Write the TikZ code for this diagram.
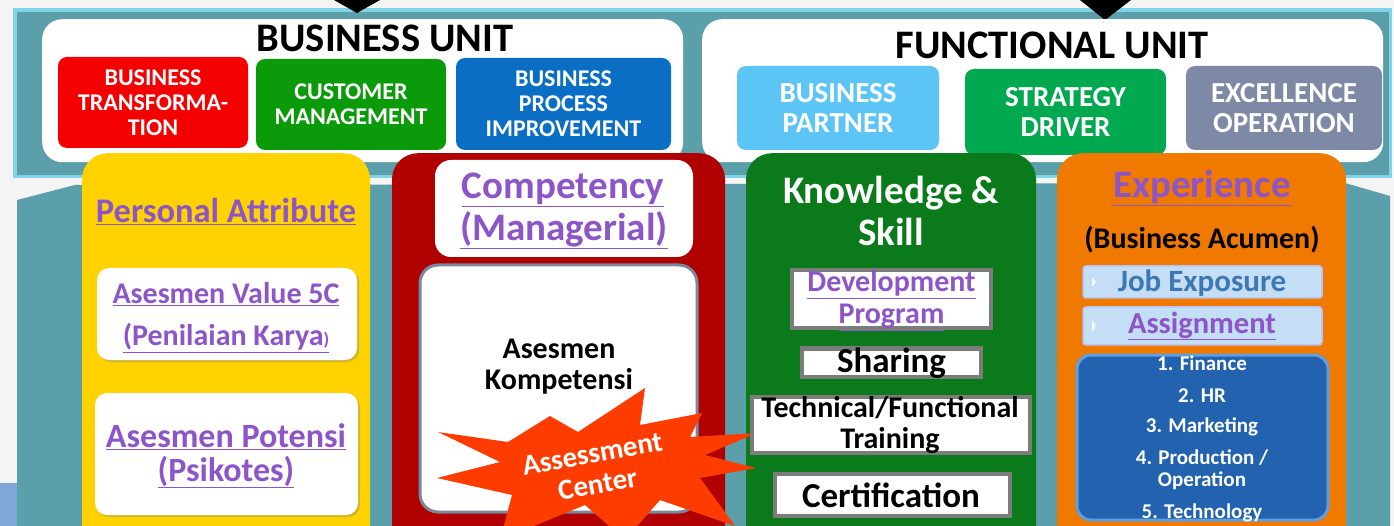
\documentclass[tikz,border=0pt]{standalone}
\usepackage{fontspec}
\setmainfont{Carlito}
\usetikzlibrary{shadows}
\definecolor{bgc}{HTML}{F4F4F4}
\definecolor{tealc}{HTML}{5A9FAA}
\definecolor{cyanl}{HTML}{80D4EA}
\definecolor{lblue}{HTML}{7FA7D8}
\definecolor{redc}{HTML}{F40000}
\definecolor{greenc}{HTML}{0A9A0A}
\definecolor{bluec}{HTML}{0A6FC4}
\definecolor{skyc}{HTML}{5CC5F5}
\definecolor{stratc}{HTML}{00A84F}
\definecolor{greyc}{HTML}{7E89A6}
\definecolor{yellowc}{HTML}{FFD200}
\definecolor{darkred}{HTML}{B00000}
\definecolor{darkgreen}{HTML}{0B7A1B}
\definecolor{orangec}{HTML}{F07A00}
\definecolor{purp}{HTML}{8C55C8}
\definecolor{burst}{HTML}{FF3C00}
\definecolor{jobc}{HTML}{C3DEF5}
\definecolor{jobtxt}{HTML}{3D78B5}
\definecolor{listc}{HTML}{2262AE}
\definecolor{listrim}{HTML}{5E9EE2}
\definecolor{bevel}{HTML}{7C7C7C}
\definecolor{innerrim}{HTML}{7A879C}
\tikzset{
  unitbox/.style={rounded corners=9, inner sep=0, align=center, text=white,
    font=\bfseries\fontsize{24}{25}\selectfont},
  funcbox/.style={rounded corners=9, inner sep=0, align=center, text=white,
    font=\bfseries\fontsize{29}{30}\selectfont},
  colbox/.style={rounded corners=26, inner sep=0, anchor=north},
  whitebox/.style={rounded corners=12, inner sep=0, fill=white, align=center,
    drop shadow={opacity=0.35, shadow xshift=2pt, shadow yshift=-2pt}},
  bevelbox/.style={inner sep=0, fill=white, draw=bevel, line width=4, align=center},
  jobbox/.style={rounded corners=3, inner sep=0, fill=jobc, draw=jobc!70!blue!60, line width=1.5, align=center},
  ptxt/.style={text=purp, align=center, inner sep=0},
  listtxt/.style={inner sep=0, text=white, align=center, font=\bfseries\fontsize{21}{22}\selectfont},
  title/.style={inner sep=0, font=\bfseries\fontsize{40.5}{44}\selectfont}
}
\begin{document}
\begin{tikzpicture}[x=1pt,y=-1pt]
\useasboundingbox (0,0) rectangle (1394,526);
\clip (0,0) rectangle (1394,526);
% background
\fill[bgc] (0,0) rectangle (1394,526);
\fill[lblue] (0,483) rectangle (17,526);
\fill[tealc] (17,200) -- (75,185) -- (1345,183) -- (1390,196) -- (1390,526) -- (17,526) -- cycle;
% top band
\fill[cyanl] (13,8) rectangle (1392,178);
\fill[tealc] (17,12) rectangle (1389,175);
\fill[black] (334,0) -- (380,0) -- (357,13) -- cycle;
\fill[black] (1080,0) -- (1131,0) -- (1105,20) -- cycle;
% unit panels
\node[fill=white, rounded corners=20, inner sep=0, minimum width=641, minimum height=143, anchor=north west] (bu) at (42,19) {};
\node[fill=white, rounded corners=20, inner sep=0, minimum width=681, minimum height=143, anchor=north west] (fu) at (702,19) {};
\node[title] (butitle) at (385,38) {BUSINESS UNIT};
\node[title] (futitle) at (1052,45) {FUNCTIONAL UNIT};
\node[unitbox, fill=redc, minimum width=190, minimum height=91] (bt) at (153,102.5) {BUSINESS\\TRANSFORMA-\\TION};
\node[unitbox, fill=greenc, minimum width=190, minimum height=91] (cm) at (351,104.5) {CUSTOMER\\MANAGEMENT};
\node[unitbox, fill=bluec, minimum width=215, minimum height=92] (bpi) at (563.5,104) {BUSINESS\\PROCESS\\IMPROVEMENT};
\node[funcbox, fill=skyc, minimum width=202, minimum height=84] (bp) at (838,108) {BUSINESS\\PARTNER};
\node[funcbox, fill=stratc, minimum width=201, minimum height=86] (sd) at (1065.5,112) {STRATEGY\\DRIVER};
\node[funcbox, fill=greyc, minimum width=196, minimum height=84] (eo) at (1284,108) {EXCELLENCE\\OPERATION};
% columns
\node[colbox, fill=yellowc, minimum width=288, minimum height=420] (col1) at (226,153) {};
\node[colbox, fill=darkred, minimum width=333, minimum height=420] (col2) at (558.5,153) {};
\node[colbox, fill=darkgreen, minimum width=290, minimum height=420] (col3) at (891,153) {};
\node[colbox, fill=orangec, minimum width=289, minimum height=420] (col4) at (1201.5,153) {};
% column 1
\node[ptxt, font=\bfseries\fontsize{34.5}{38}\selectfont] (pa) at (226,212) {\underline{Personal Attribute}};
\node[whitebox, minimum width=260, minimum height=92] (av) at (227,314) {};
\node[ptxt, font=\bfseries\fontsize{30}{34}\selectfont] (avt1) at (226,294) {\underline{Asesmen Value 5C}};
\node[ptxt, font=\bfseries\fontsize{30}{34}\selectfont] (avt2) at (226,338) {\underline{(Penilaian Karya{\fontsize{18}{20}\selectfont)}}};
\node[whitebox, minimum width=263, minimum height=122] (ap) at (226.5,454) {};
\node[ptxt, font=\bfseries\fontsize{34}{38}\selectfont] (apt1) at (226,437) {\underline{Asesmen Potensi}};
\node[ptxt, font=\bfseries\fontsize{34}{38}\selectfont] (apt2) at (226,472) {\underline{(Psikotes)}};
% column 2
\node[fill=white, rounded corners=16, inner sep=0, minimum width=258, minimum height=97] (comp) at (564,208.5) {};
\node[ptxt, font=\bfseries\fontsize{39}{42}\selectfont] (compt1) at (563,190) {\underline{Competency}};
\node[ptxt, font=\bfseries\fontsize{39}{42}\selectfont] (compt2) at (564,230) {\underline{(Managerial)}};
\node[fill=white, draw=innerrim, line width=3, rounded corners=18, inner sep=0, minimum width=277, minimum height=247] (ak) at (558.5,388.5) {};
\node[inner sep=0, align=center, font=\bfseries\fontsize{30}{31}\selectfont] (akt) at (559,367) {Asesmen\\Kompetensi};
\fill[burst] (438,432) -- (508,442) -- (550,416) -- (578,432) -- (645,388) -- (640,425) -- (702,413) -- (690,437) -- (757,433) -- (705,455) -- (756,468) -- (700,478) -- (735,526) -- (660,500) -- (625,540) -- (585,505) -- (500,540) -- (512,495) -- (437,478) -- (500,462) -- cycle;
\node[inner sep=0, align=center, text=white, rotate=10, font=\bfseries\fontsize{29}{31}\selectfont] (ac) at (595,469) {Assessment\\Center};
% column 3
\node[inner sep=0, align=center, text=white, font=\bfseries\fontsize{39}{42}\selectfont] (ks) at (891,211) {Knowledge \&\\Skill};
\node[bevelbox, minimum width=199, minimum height=58] (dp) at (891.5,299) {};
\node[ptxt, font=\bfseries\fontsize{30}{32}\selectfont] (dpt) at (891.5,301) {\underline{Development}\\\underline{Program}};
\node[bevelbox, minimum width=179, minimum height=28] (sh) at (891.5,362.5) {};
\node[inner sep=0, font=\bfseries\fontsize{35}{36}\selectfont] (sht) at (891.5,363) {Sharing};
\node[bevelbox, minimum width=278, minimum height=56] (tf) at (891,425) {};
\node[inner sep=0, align=center, font=\bfseries\fontsize{30}{31}\selectfont] (tft) at (890,425) {Technical/Functional\\Training};
\node[bevelbox, minimum width=235, minimum height=42] (ce) at (892.5,495) {};
\node[inner sep=0, font=\bfseries\fontsize{35}{36}\selectfont] (cet) at (891,495) {Certification};
% column 4
\node[ptxt, font=\bfseries\fontsize{39}{42}\selectfont] (ex) at (1202,188) {\underline{Experience}};
\node[inner sep=0, font=\bfseries\fontsize{30}{32}\selectfont] (ba) at (1202,240) {(Business Acumen)};
\node[jobbox, minimum width=239, minimum height=32] (je) at (1202.5,282) {};
\node[inner sep=0, text=jobtxt, font=\bfseries\fontsize{31}{32}\selectfont] (jet) at (1202,283) {Job Exposure};
\node[jobbox, minimum width=239, minimum height=38] (as) at (1202.5,326) {};
\node[ptxt, font=\bfseries\fontsize{30.5}{32}\selectfont] (ast) at (1202,326) {\underline{Assignment}};
\fill[white!85!jobc] (1092,277) -- (1096,282) -- (1092,287) -- cycle;
\fill[white!85!jobc] (1092,320) -- (1096,326) -- (1092,332) -- cycle;
\node[fill=listc, draw=listrim, line width=3, rounded corners=14, inner sep=0, minimum width=251, minimum height=165] (li) at (1202.5,437.5) {};
\node[listtxt] (l1) at (1202,363) {1. Finance};
\node[listtxt] (l2) at (1202,396) {2. HR};
\node[listtxt] (l3) at (1202,427) {3. Marketing};
\node[listtxt] (l4) at (1202,470) {4. Production /\\Operation};
\node[listtxt] (l5) at (1202,513) {5. Technology};
\end{tikzpicture}
\end{document}
